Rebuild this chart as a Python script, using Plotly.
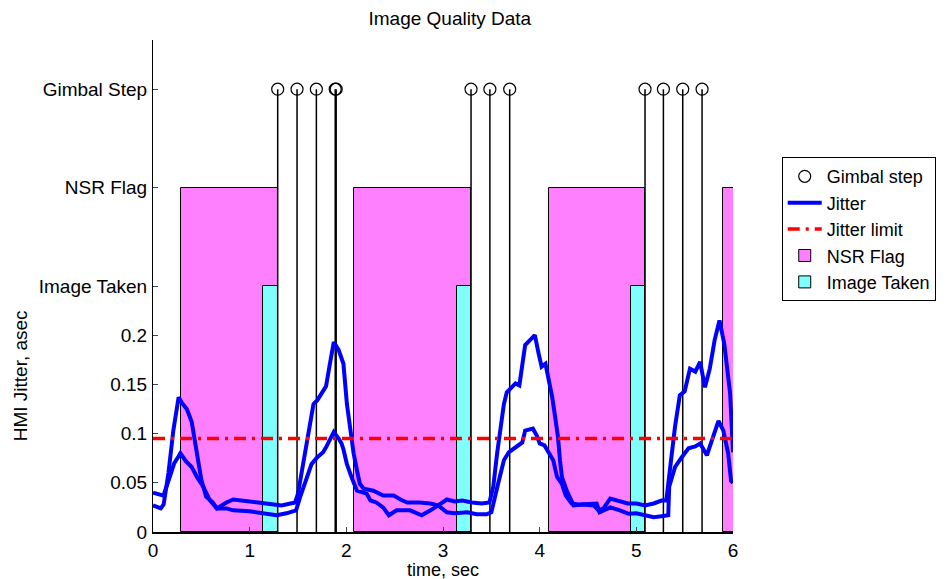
import plotly.graph_objects as go

# ---- data -------------------------------------------------------------
# HMI jitter traces (time in s, jitter in arcsec)
t_jit_a = [0.00, 0.04, 0.08, 0.11, 0.16, 0.21, 0.265, 0.30, 0.35, 0.40, 0.45, 0.50, 0.55,
           0.62, 0.66, 0.72, 0.76, 0.83, 0.90, 1.00, 1.08, 1.17, 1.25, 1.33, 1.40, 1.47,
           1.50, 1.56, 1.61, 1.66, 1.70, 1.73, 1.76, 1.79, 1.83, 1.87, 1.92, 1.97, 2.006,
           2.04, 2.075, 2.11, 2.14, 2.18, 2.28, 2.38, 2.49, 2.56, 2.63, 2.76, 2.87, 2.95,
           3.04, 3.12, 3.20, 3.30, 3.40, 3.48, 3.52, 3.56, 3.59, 3.63, 3.66, 3.70, 3.75,
           3.79, 3.83, 3.85, 3.90, 3.95, 3.99, 4.02, 4.06, 4.09, 4.13, 4.16, 4.19, 4.21,
           4.23, 4.28, 4.35, 4.45, 4.56, 4.61, 4.66, 4.73, 4.83, 4.91, 5.00, 5.09, 5.18,
           5.26, 5.31, 5.35, 5.40, 5.45, 5.50, 5.555, 5.61, 5.66, 5.71, 5.76, 5.81, 5.86,
           5.91, 5.97, 6.00]
jit_a = [0.027, 0.026, 0.024, 0.028, 0.060, 0.103, 0.137, 0.131, 0.125, 0.112, 0.080, 0.053, 0.036,
         0.030, 0.024, 0.028, 0.030, 0.033, 0.032, 0.031, 0.030, 0.029, 0.028, 0.027, 0.028, 0.030,
         0.039, 0.073, 0.107, 0.130, 0.134, 0.139, 0.144, 0.148, 0.171, 0.193, 0.185, 0.171, 0.130,
         0.103, 0.080, 0.0625, 0.049, 0.044, 0.042, 0.037, 0.037, 0.033, 0.030, 0.030, 0.029, 0.027,
         0.033, 0.031, 0.032, 0.030, 0.029, 0.030, 0.046, 0.080, 0.103, 0.130, 0.142, 0.146, 0.151,
         0.149, 0.174, 0.190, 0.195, 0.200, 0.181, 0.168, 0.171, 0.157, 0.137, 0.117, 0.096, 0.073,
         0.056, 0.042, 0.027, 0.028, 0.027, 0.022, 0.024, 0.034, 0.031, 0.029, 0.029, 0.027, 0.029,
         0.032, 0.032, 0.066, 0.107, 0.139, 0.143, 0.166, 0.163, 0.173, 0.147, 0.166, 0.195, 0.215,
         0.191, 0.141, 0.081]

t_jit_b = [0.00, 0.05, 0.108, 0.16, 0.22, 0.265, 0.283, 0.34, 0.40, 0.46, 0.52, 0.59, 0.66,
           0.76, 0.83, 1.00, 1.17, 1.28, 1.38, 1.48, 1.52, 1.58, 1.64, 1.70, 1.76, 1.79,
           1.87, 1.92, 1.95, 1.97, 2.006, 2.06, 2.11, 2.21, 2.25, 2.31, 2.38, 2.44, 2.52,
           2.66, 2.78, 2.87, 2.95, 3.04, 3.12, 3.25, 3.35, 3.45, 3.50, 3.57, 3.63, 3.68,
           3.75, 3.82, 3.85, 3.93, 3.97, 4.00, 4.05, 4.09, 4.14, 4.18, 4.23, 4.27, 4.33,
           4.40, 4.51, 4.59, 4.62, 4.73, 4.83, 4.92, 5.00, 5.09, 5.18, 5.26, 5.33, 5.34,
           5.40, 5.47, 5.54, 5.61, 5.66, 5.73, 5.78, 5.85, 5.90, 5.95, 5.98, 6.00]
jit_b = [0.040, 0.039, 0.037, 0.052, 0.070, 0.077, 0.080, 0.072, 0.066, 0.055, 0.046, 0.032, 0.024,
         0.024, 0.022, 0.021, 0.019, 0.017, 0.019, 0.022, 0.035, 0.052, 0.069, 0.076, 0.081, 0.086,
         0.1015, 0.095, 0.090, 0.084, 0.069, 0.054, 0.042, 0.039, 0.032, 0.030, 0.025, 0.017, 0.022,
         0.022, 0.017, 0.022, 0.027, 0.020, 0.019, 0.020, 0.018, 0.018, 0.020, 0.049, 0.073, 0.081,
         0.086, 0.091, 0.103, 0.105, 0.098, 0.090, 0.088, 0.081, 0.073, 0.056, 0.049, 0.037, 0.029,
         0.028, 0.029, 0.029, 0.020, 0.025, 0.022, 0.0185, 0.019, 0.017, 0.015, 0.016, 0.017, 0.046,
         0.066, 0.076, 0.085, 0.087, 0.090, 0.078, 0.093, 0.113, 0.103, 0.080, 0.052, 0.050]

jitter_limit = 0.095

# NSR flag intervals (s)
nsr_start = [0.285, 2.08, 4.095, 5.895]
nsr_end = [1.29, 3.29, 5.09, 6.50]

# image exposure intervals (s)
img_start = [1.135, 3.14, 4.94]
img_end = [1.29, 3.29, 5.09]

# gimbal step times (s)
gimbal_t = [1.29, 1.49, 1.69, 1.885, 1.895, 3.29, 3.485, 3.69, 5.09, 5.28, 5.48, 5.68]

# event rows share the jitter axis
image_level = 0.25
nsr_level = 0.35
gimbal_level = 0.45

y_tickvals = [0, 0.05, 0.1, 0.15, 0.2, image_level, nsr_level, gimbal_level]
y_ticktext = ["0", "0.05", "0.1", "0.15", "0.2", "Image Taken", "NSR Flag", "Gimbal Step"]
x_tickvals = [0, 1, 2, 3, 4, 5, 6]

# ---- figure -----------------------------------------------------------
FONT = "Liberation Sans, Arial, sans-serif"
fig = go.Figure()

fig.add_trace(go.Bar(
    x=[(s + e) / 2 for s, e in zip(nsr_start, nsr_end)],
    y=[nsr_level] * len(nsr_start),
    width=[e - s for s, e in zip(nsr_start, nsr_end)],
    marker=dict(color="#FF80FF", line=dict(color="black", width=1)),
    name="NSR Flag", legendrank=4,
))
fig.add_trace(go.Bar(
    x=[(s + e) / 2 for s, e in zip(img_start, img_end)],
    y=[image_level] * len(img_start),
    width=[e - s for s, e in zip(img_start, img_end)],
    marker=dict(color="#80FFFF", line=dict(color="black", width=1)),
    name="Image Taken", legendrank=5,
))

# gimbal step stems
stem_x, stem_y = [], []
for t in gimbal_t:
    stem_x += [t, t, None]
    stem_y += [0, gimbal_level, None]
fig.add_trace(go.Scatter(
    x=stem_x, y=stem_y, mode="lines",
    line=dict(color="black", width=1.5),
    showlegend=False, hoverinfo="skip",
))
fig.add_trace(go.Scatter(
    x=gimbal_t, y=[gimbal_level] * len(gimbal_t), mode="markers",
    marker=dict(symbol="circle-open", size=12, color="black", line=dict(width=1.2)),
    name="Gimbal step", legendrank=1,
))

fig.add_trace(go.Scatter(
    x=t_jit_a, y=jit_a, mode="lines",
    line=dict(color="#0000FF", width=4),
    name="Jitter", legendgroup="jit", legendrank=2,
))
fig.add_trace(go.Scatter(
    x=t_jit_b, y=jit_b, mode="lines",
    line=dict(color="#0000FF", width=4),
    name="Jitter", legendgroup="jit", showlegend=False,
))
fig.add_trace(go.Scatter(
    x=[x_tickvals[0], x_tickvals[-1]], y=[jitter_limit, jitter_limit], mode="lines",
    line=dict(color="#FF0000", width=3.5, dash="12px,6px,3px,6px"),
    name="Jitter limit", legendrank=3,
))

fig.update_layout(
    width=949, height=579,
    margin=dict(l=153, r=216, t=40, b=47),
    paper_bgcolor="white", plot_bgcolor="white",
    barmode="overlay", bargap=0,
    font=dict(family=FONT, size=19, color="black"),
    title=dict(text="Image Quality Data", x=0.474, xanchor="center",
               y=1 - 18 / 579, yanchor="middle", font=dict(size=19)),
    showlegend=True,
    legend=dict(
        x=1.084, y=0.762, xanchor="left", yanchor="top",
        bordercolor="black", borderwidth=1, bgcolor="white",
        font=dict(size=18), tracegroupgap=0, itemwidth=34,
    ),
)

fig.update_xaxes(
    range=[0, 6], tickvals=x_tickvals, ticks="inside", ticklen=5,
    showline=True, linecolor="black", linewidth=2,
    showgrid=False, zeroline=False, ticklabelstandoff=0,
)
fig.update_yaxes(
    range=[0, 0.5], tickvals=y_tickvals, ticktext=y_ticktext,
    ticks="inside", ticklen=5,
    showline=True, linecolor="black", linewidth=1,
    showgrid=False, zeroline=False, ticklabelstandoff=1,
)

fig.add_annotation(text="HMI Jitter, asec", textangle=-90, xref="paper", yref="y",
                   x=-0.228, y=0.159, showarrow=False, font=dict(size=19),
                   xanchor="center", yanchor="middle")
fig.add_annotation(text="time, sec", xref="paper", yref="paper",
                   x=0.5, y=-0.078, showarrow=False, font=dict(size=18),
                   xanchor="center", yanchor="middle")

fig.write_html("out.html")
